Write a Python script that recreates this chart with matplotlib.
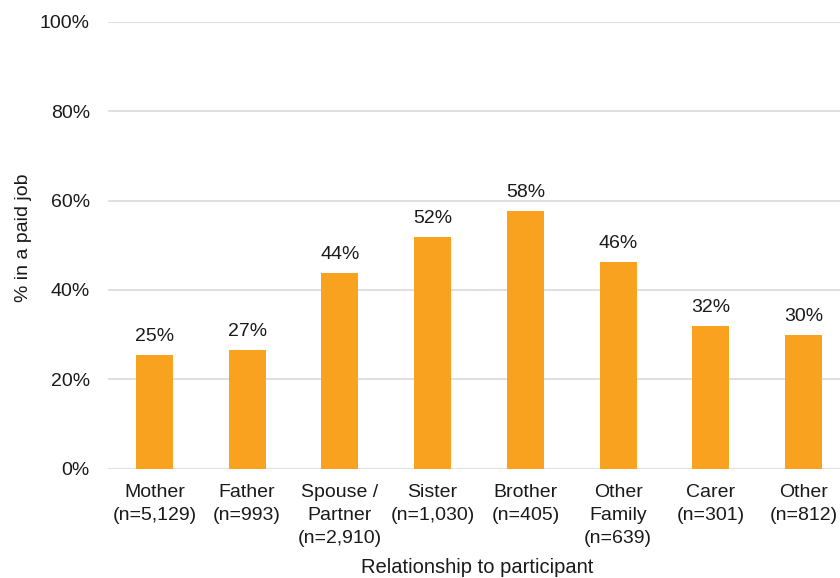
import matplotlib.pyplot as plt
from matplotlib.ticker import PercentFormatter

plt.rcParams['font.family'] = ['Liberation Sans', 'DejaVu Sans']

categories = ["Mother\n(n=5,129)", "Father\n(n=993)", "Spouse /\nPartner\n(n=2,910)",
              "Sister\n(n=1,030)", "Brother\n(n=405)", "Other\nFamily\n(n=639)",
              "Carer\n(n=301)", "Other\n(n=812)"]
values = [25.4, 26.6, 43.8, 51.8, 57.7, 46.2, 32.0, 29.9]

fig = plt.figure(figsize=(8.4, 5.78), dpi=100)
ax = fig.add_axes([0.1286, 0.1894, 0.8834, 0.7726])

x = range(len(values))
bars = ax.bar(x, values, width=0.4, color="#F9A21F", zorder=3)

ax.set_xlim(-0.5, len(values) - 0.5)
ax.set_ylim(0, 100)
ax.set_yticks(range(0, 101, 20))
ax.yaxis.set_major_formatter(PercentFormatter(decimals=0))
ax.grid(axis='y', color="#d9d9d9", linewidth=1.2, zorder=0)
ax.set_axisbelow(True)
for s in ax.spines.values():
    s.set_visible(False)
ax.tick_params(axis='both', length=0, labelsize=14, colors="#1a1a1a")
ax.tick_params(axis='y', pad=13)
ax.tick_params(axis='x', pad=11)
ax.set_xticks(list(x))
ax.set_xticklabels(categories, linespacing=1.45)

for b, v in zip(bars, values):
    ax.annotate(f"{round(v)}%", (b.get_x() + b.get_width() / 2, v),
                xytext=(0, 7), textcoords="offset points",
                ha='center', va='bottom', fontsize=14, color="#1a1a1a")

fig.text(0.0285, 0.5894, "% in a paid job", rotation=90, ha='center', va='center',
         fontsize=14, color="#1a1a1a")
fig.text(0.568, 0.019, "Relationship to participant", ha='center', va='center',
         fontsize=14.5, color="#1a1a1a")

plt.savefig("out.png", dpi=100)
plt.close()
